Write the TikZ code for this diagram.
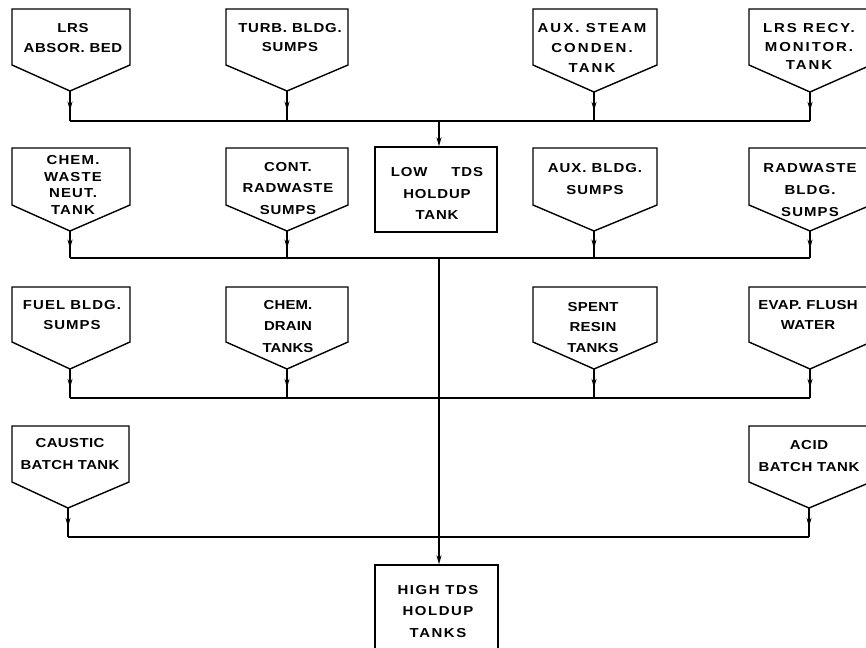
\documentclass[tikz,border=0pt]{standalone}
\usepackage{fontspec}
\newfontfamily\lblfont{Liberation Sans}[FakeStretch=1.15]
\usetikzlibrary{arrows.meta,decorations.markings}
\tikzset{
  tankline/.style={line width=1.4pt, line join=miter},
  lbl/.style n args={2}{font={\lblfont\bfseries\fontsize{13}{#1}\selectfont\addfontfeature{LetterSpace=#2}}, align=center, inner sep=0pt},
  feed/.style={line width=1.4pt, postaction={decorate}, decoration={markings, mark=at position 0.65 with {\arrow{Stealth[length=9pt,width=5pt]}}}},
  busline/.style={line width=1.4pt},
  trunk/.style={line width=1.4pt, -{Stealth[length=9pt,width=5pt]}},
  holdup/.style={draw, line width=1.4pt, minimum width=122pt, inner sep=0pt}
}
\newcommand\tank[7]{% name, xl, xr, ytop, yside, ytip, xtip
  \draw[tankline] (#2,#4) -- (#3,#4) -- (#3,#5) -- (#7,#6) -- (#2,#5) -- cycle;
  \coordinate (#1) at (#7,#6);}
\begin{document}
\begin{tikzpicture}[x=1pt,y=-1pt]
\fill[white] (0,0) rectangle (866,647);
\useasboundingbox (0,0) rectangle (866,647);
% ---------- row 1
\tank{a1}{12}{130}{9}{65}{91}{70}
\tank{a2}{226}{348}{9}{65}{91}{287}
\tank{a3}{533}{657}{9}{65}{92}{594}
\tank{a4}{749}{871}{9}{65}{92}{810}
\node[lbl={20.5}{4.5}] (ta1) at (73,38) {LRS\\ABSOR. BED};
\node[lbl={19}{6}] (ta2) at (290,37.5) {TURB. BLDG.\\SUMPS};
\node[lbl={20}{16}] (ta3) at (592,48) {AUX. STEAM\\CONDEN.\\TANK};
\node[lbl={18.5}{15}] (ta4) at (809,46.5) {LRS RECY.\\MONITOR.\\TANK};
\coordinate (bus1) at (439,121);
\draw[busline] (a1 |- bus1) -- (a4 |- bus1);
\foreach \n in {a1,a2,a3,a4} \draw[feed] (\n) -- (\n |- bus1);
% ---------- row 2
\node[holdup, minimum height=85pt] (low) at (436,189.5) {};
\node[lbl={21.5}{6.5}] (lowtxt) at (437,193.5) {LOW\hspace{24pt}TDS\\HOLDUP\\TANK};
\draw[trunk] (bus1) -- (bus1 |- low.north);
\tank{b1}{12}{130}{148}{205}{231}{70}
\tank{b2}{226}{348}{148}{205}{231}{287}
\tank{b3}{533}{657}{148}{205}{231}{594}
\tank{b4}{749}{871}{148}{205}{231}{810}
\node[lbl={16.7}{9}] (tb1) at (73,185) {CHEM.\\WASTE\\NEUT.\\TANK};
\node[lbl={21.5}{5.5}] (tb2) at (288,188.5) {CONT.\\RADWASTE\\SUMPS};
\node[lbl={22}{7.5}] (tb3) at (595,179) {AUX. BLDG.\\SUMPS};
\node[lbl={22}{8.5}] (tb4) at (810,190) {RADWASTE\\BLDG.\\SUMPS};
\coordinate (bus2) at (439,258);
\draw[busline] (b1 |- bus2) -- (b4 |- bus2);
\foreach \n in {b1,b2,b3,b4} \draw[feed] (\n) -- (\n |- bus2);
% ---------- row 3
\tank{c1}{12}{130}{287}{342}{369}{70}
\tank{c2}{226}{348}{287}{342}{369}{287}
\tank{c3}{533}{657}{287}{342}{369}{594}
\tank{c4}{749}{871}{287}{342}{369}{810}
\node[lbl={20}{8}] (tc1) at (72,315) {FUEL BLDG.\\SUMPS};
\node[lbl={21.5}{1}] (tc2) at (288,326.5) {CHEM.\\DRAIN\\TANKS};
\node[lbl={20.5}{2}] (tc3) at (593,327.5) {SPENT\\RESIN\\TANKS};
\node[lbl={20}{3}] (tc4) at (808,315) {EVAP. FLUSH\\WATER};
\coordinate (bus3) at (439,398);
\draw[busline] (c1 |- bus3) -- (c4 |- bus3);
\foreach \n in {c1,c2,c3,c4} \draw[feed] (\n) -- (\n |- bus3);
% ---------- row 4
\tank{d1}{12}{129}{426}{482}{508}{68}
\tank{d4}{749}{871}{426}{482}{508}{809}
\node[lbl={22}{3}] (td1) at (70,454) {CAUSTIC\\BATCH TANK};
\node[lbl={22}{5}] (td4) at (809,456) {ACID\\BATCH TANK};
\coordinate (bus4) at (439,537);
\draw[busline] (d1 |- bus4) -- (d4 |- bus4);
\foreach \n in {d1,d4} \draw[feed] (\n) -- (\n |- bus4);
% ---------- high TDS
\node[holdup, minimum width=123pt, minimum height=115pt] (high) at (436.5,622.5) {};
\node[lbl={21.5}{12}] (hightxt) at (438,611.5) {HIGH TDS\\HOLDUP\\TANKS};
\draw[trunk] (bus2) -- (bus2 |- high.north);
\end{tikzpicture}
\end{document}
